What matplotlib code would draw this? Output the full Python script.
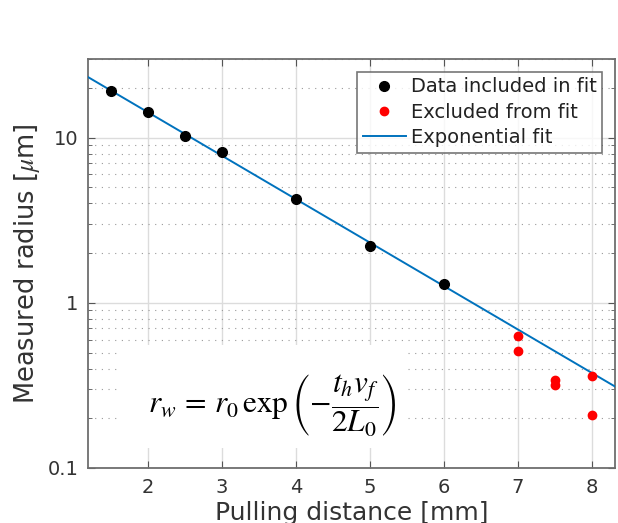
import numpy as np
import matplotlib.pyplot as plt
from matplotlib.ticker import FixedLocator, NullFormatter
from matplotlib.patches import Rectangle

plt.rcParams['mathtext.fontset'] = 'stix'

# Data included in the fit
x_fit = [1.5, 2.0, 2.5, 3.0, 4.0, 5.0, 6.0]
r_fit = [19.2, 14.3, 10.3, 8.2, 4.24, 2.2, 1.3]

# Points excluded from the fit
x_excl = [7.0, 7.0, 7.5, 7.5, 8.0, 8.0]
r_excl = [0.63, 0.51, 0.34, 0.32, 0.36, 0.209]

xticks = [2, 3, 4, 5, 6, 7, 8]
yticks = [0.1, 1, 10]
ytick_labels = ['0.1', '1', '10']

# Exponential fit on the included points
slope, intercept = np.polyfit(x_fit, np.log(r_fit), 1)

fig = plt.figure(figsize=(6.18, 5.23), dpi=100)
ax = fig.add_axes([0.1424, 0.1052, 0.8527, 0.782])

xline = np.linspace(1.19, 8.31, 200)
ax.plot(x_fit, r_fit, 'o', color='black', markersize=7, label='Data included in fit', zorder=4)
ax.plot(x_excl, r_excl, 'o', color='red', markersize=6, label='Excluded from fit', zorder=4)
ax.plot(xline, np.exp(intercept + slope * xline), color='#0072BD', lw=1.4,
        label='Exponential fit', zorder=3)

ax.set_yscale('log')
ax.set_xlim(1.19, 8.31)
ax.set_ylim(0.1, 30)
ax.xaxis.set_major_locator(FixedLocator(xticks))
ax.yaxis.set_major_locator(FixedLocator(yticks))
ax.set_yticklabels(ytick_labels)
ax.yaxis.set_minor_formatter(NullFormatter())

ax.grid(True, which='major', color='#dcdcdc', lw=1.0, zorder=0)
ax.grid(True, which='minor', axis='y', color='#9a9a9a', lw=0.8, ls=(0, (1, 5)), zorder=0)
ax.set_axisbelow(True)

ax.tick_params(which='both', direction='in', top=True, right=True, color='#555555')
ax.tick_params(which='major', length=5, labelsize=14, labelcolor='#333333', pad=7)
ax.tick_params(which='minor', length=3)
for s in ax.spines.values():
    s.set_color('#6e6e6e')
    s.set_linewidth(1.3)

ax.set_xlabel('Pulling distance [mm]', fontsize=18, color='#333333', labelpad=3)
ax.set_ylabel(r'Measured radius [$\mu$m]', fontsize=18.5, color='#333333', labelpad=4)

# white patch behind the formula (hides the grid there)
ax.add_patch(Rectangle((30 / 527, 20 / 409), 290 / 527, 103 / 409, transform=ax.transAxes,
                       facecolor='white', edgecolor='none', zorder=1))
ax.text(3.68, 0.242, r'$r_w\,=\,r_0\,\exp\left(-\dfrac{t_h v_f}{2L_0}\right)$',
        fontsize=22.5, ha='center', va='center', zorder=2)

leg = ax.legend(loc='upper right', fontsize=14, frameon=True, fancybox=False,
                edgecolor='#555555', handlelength=2.2, handletextpad=0.25,
                borderpad=0.3, labelspacing=0.32, borderaxespad=0.65)
leg.get_frame().set_linewidth(1.2)
for t in leg.get_texts():
    t.set_color('#222222')

fig.savefig('out.png', dpi=100)
